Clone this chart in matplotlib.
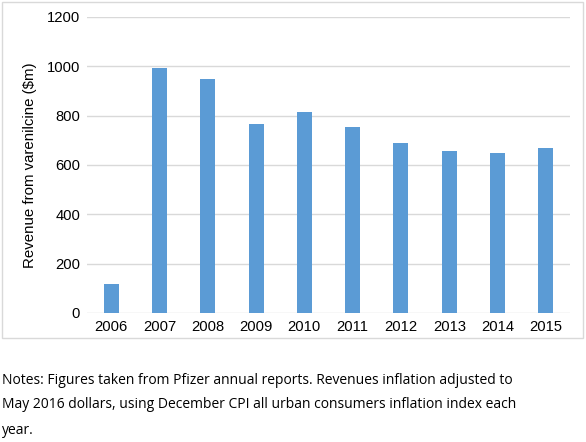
import matplotlib
matplotlib.use('Agg')
import matplotlib.pyplot as plt
from matplotlib.patches import Rectangle

years = ['2006', '2007', '2008', '2009', '2010', '2011', '2012', '2013', '2014', '2015']
revenue = [118, 993, 948, 766, 813, 753, 688, 655, 649, 670]
yticks = [0, 200, 400, 600, 800, 1000, 1200]
notes = ["Notes: Figures taken from Pfizer annual reports. Revenues inflation adjusted to",
         "May 2016 dollars, using December CPI all urban consumers inflation index each",
         "year."]

W, H = 586, 442
fig = plt.figure(figsize=(W / 100, H / 100), dpi=100)

# outer frame around the chart
fig.patches.append(Rectangle((2 / W, 1 - 338 / H), 581 / W, 336 / H, transform=fig.transFigure,
                             fill=False, edgecolor='#d9d9d9', linewidth=1))

ax = fig.add_axes([87 / W, 1 - 313 / H, (570 - 87) / W, (313 - 17) / H])
x = range(len(years))
ax.bar(x, revenue, width=0.31, color='#5b9bd5', zorder=3)
ax.set_xlim(-0.5, len(years) - 0.5)
ax.set_ylim(0, 1200)
ax.set_yticks(yticks)
ax.set_xticks(list(x))
ax.set_xticklabels(years)
ax.grid(axis='y', color='#d9d9d9', linewidth=1, zorder=0)
for s in ax.spines.values():
    s.set_visible(False)
ax.tick_params(length=0, labelsize=10.6, pad=5)
for lbl in ax.get_xticklabels() + ax.get_yticklabels():
    lbl.set_family('Liberation Sans')
ax.set_ylabel('Revenue from varenilcine ($m)', fontsize=10.8, family='Liberation Sans', labelpad=7)

for i, line in enumerate(notes):
    fig.text(2 / W, 1 - (380 + 25 * i) / H, line, fontsize=10, family='Open Sans',
             va='center', ha='left')

fig.savefig('out.png', dpi=100)
